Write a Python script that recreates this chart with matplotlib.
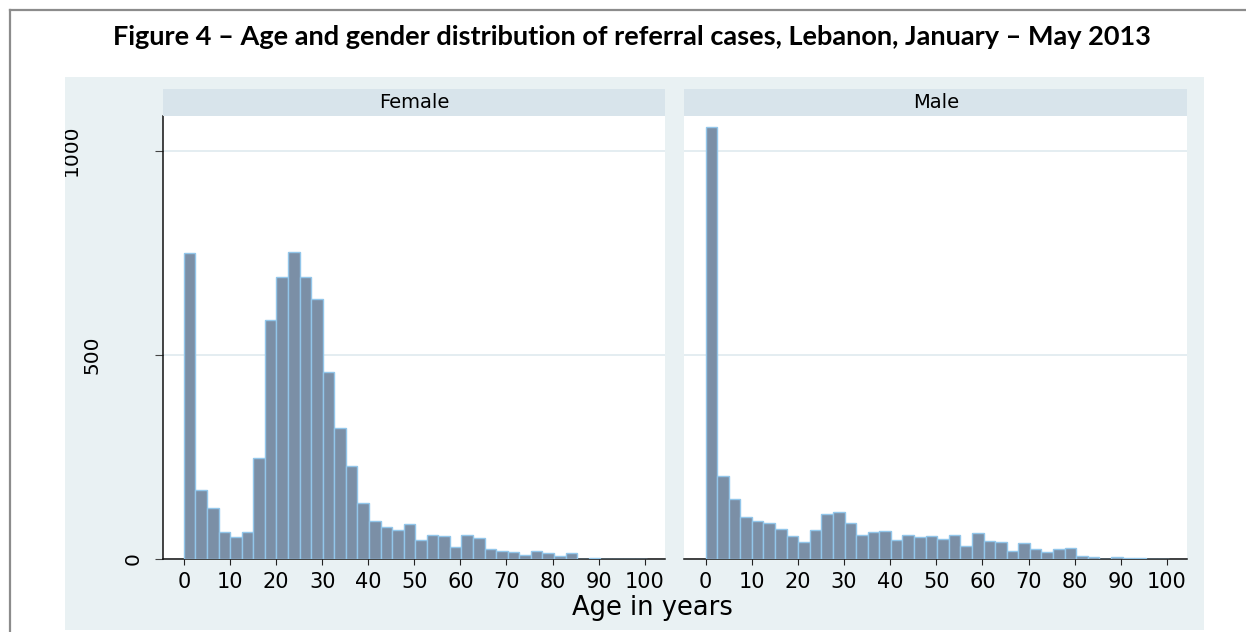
### Age and gender histogram of referral cases (Lebanon, Jan-May 2013)

import matplotlib
matplotlib.use("Agg")
import matplotlib.pyplot as plt
from matplotlib.patches import Rectangle
from matplotlib.lines import Line2D

# histogram bins (years)
bin_start = 0.0
bin_width = 2.51
n_bins = 40

female_counts = [750, 170, 124, 66, 55, 65, 248, 585, 690, 752,
                 690, 637, 457, 321, 227, 136, 93, 78, 70, 86,
                 46, 59, 56, 29, 58, 51, 24, 20, 17, 10,
                 19, 14, 8, 14, 0, 2, 1, 0, 1, 1]
male_counts = [1058, 203, 146, 103, 94, 87, 74, 56, 42, 70,
               111, 116, 89, 60, 67, 68, 47, 60, 53, 56,
               48, 59, 31, 63, 44, 41, 20, 38, 25, 18,
               24, 26, 7, 4, 1, 4, 2, 2, 0, 0]

panels = ["Female", "Male"]
x_ticks = [0, 10, 20, 30, 40, 50, 60, 70, 80, 90, 100]
y_ticks = [0, 500, 1000]
y_tick_labels = ["0", "500", "1000"]

title = "Figure 4 \u2013 Age and gender distribution of referral cases, Lebanon, January \u2013 May 2013"
x_title = "Age in years"

W, H = 1246, 632
bar_fill = "#7b8fa6"
bar_edge = "#92c6ea"
panel_bg = "#e9f1f3"
strip_bg = "#d8e4eb"
grid_col = "#e4edf1"


def fx(px):
    return px / W


def fy(py):
    # pixel from top -> figure fraction from bottom
    return 1 - py / H


fig = plt.figure(figsize=(W / 100, H / 100), dpi=100)

# document frame lines
fig.add_artist(Line2D([fx(10), 1], [fy(10), fy(10)], color="#8c8c8c", lw=1.6))
fig.add_artist(Line2D([fx(10), fx(10)], [fy(10), 0], color="#8c8c8c", lw=1.6))

# light graph region
bg = Rectangle((fx(65), fy(630)), fx(1204 - 65), (630 - 77) / H,
               transform=fig.transFigure, facecolor=panel_bg, edgecolor="none", zorder=0)
fig.add_artist(bg)

# title, scaled to span the same width as in the original
t = fig.text(fx(632), fy(45), title, ha="center", va="baseline",
             fontsize=18, fontweight="bold", family="Lato")
r = fig.canvas.get_renderer()
tw = t.get_window_extent(r).width
t.set_fontsize(18 * 1040 / tw)

edges = [bin_start + i * bin_width for i in range(n_bins)]
axes_px = [(162.7, 665.0), (684.3, 1187.3)]
ax_top, ax_bot = 116, 559

for k, (name, counts) in enumerate(zip(panels, [female_counts, male_counts])):
    x0, x1 = axes_px[k]
    ax = fig.add_axes([fx(x0), fy(ax_bot), fx(x1 - x0), (ax_bot - ax_top) / H])
    ax.bar(edges, counts, width=bin_width, align="edge",
           color=bar_fill, edgecolor=bar_edge, linewidth=1.0, zorder=3)
    ax.set_xlim(-4.6, 104.4)
    ax.set_ylim(0, 1085)
    ax.set_yticks(y_ticks)
    ax.set_yticklabels([])
    ax.yaxis.grid(True, color=grid_col, lw=1.4, zorder=0)
    ax.set_xticks(x_ticks)
    ax.set_xticklabels([str(v) for v in x_ticks], fontsize=15, family="DejaVu Sans")
    ax.tick_params(axis="x", direction="out", length=4.5, width=0.8, color="#222222", pad=5)
    for s in ["top", "right"]:
        ax.spines[s].set_visible(False)
    ax.spines["bottom"].set_linewidth(1.1)
    ax.spines["bottom"].set_color("#111111")
    if k == 0:
        ax.spines["left"].set_linewidth(1.1)
        ax.spines["left"].set_color("#111111")
        ax.tick_params(axis="y", direction="out", length=5.5, width=0.8, color="#444444")
        # y labels sit at staggered positions in the original
        label_px = [133, 92, 71.5]
        for v, lab, px in zip(y_ticks, y_tick_labels, label_px):
            tx = ax.text((px - x0) / (x1 - x0), v, lab, transform=ax.get_yaxis_transform(),
                         rotation=90, ha="center", va="center", fontsize=14.5,
                         family="DejaVu Sans", clip_on=True)
            tx.set_clip_path(bg)
    else:
        ax.spines["left"].set_visible(False)
        ax.tick_params(axis="y", length=0)

    # strip header
    sax = fig.add_axes([fx(x0), fy(ax_top), fx(x1 - x0), (ax_top - 89.3) / H])
    sax.set_facecolor(strip_bg)
    sax.set_xticks([])
    sax.set_yticks([])
    for s in sax.spines.values():
        s.set_visible(False)
    sax.text(0.5, 0.5, name, ha="center", va="center", fontsize=14,
             family="DejaVu Sans", transform=sax.transAxes)

fig.text(fx(652), fy(608), x_title, ha="center", va="center", fontsize=18.5,
         family="DejaVu Sans")

fig.savefig("out.png", dpi=100)
